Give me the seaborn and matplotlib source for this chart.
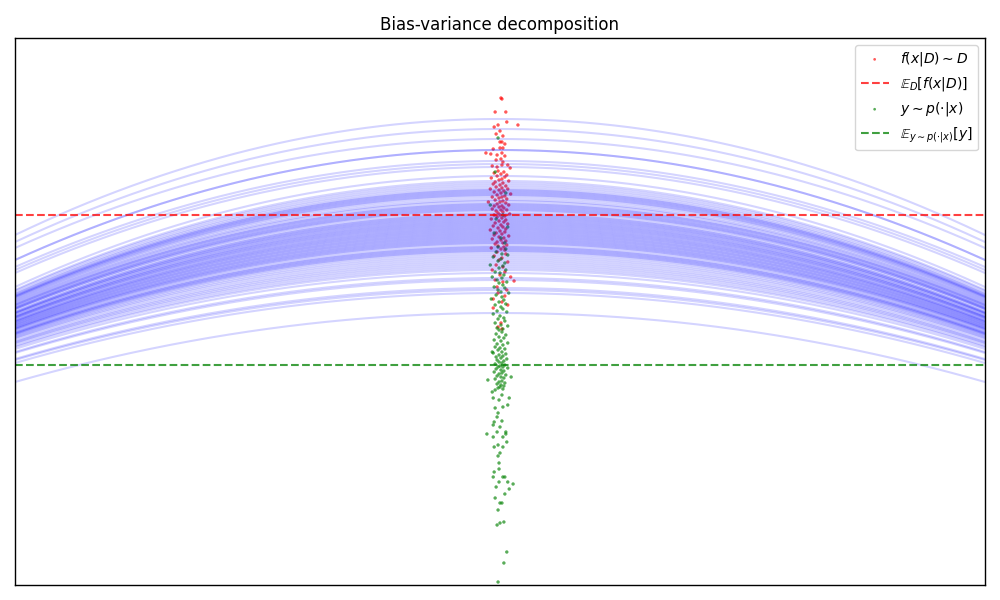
import numpy as np
import pandas as pd
import matplotlib
matplotlib.use("Agg")
import matplotlib.pyplot as plt
import seaborn as sns

# ---- data ----
# fitted quadratic models: y = vertex - drop * x^2 on x in [-1, 1]
curve_vertex = [4.66, 4.56, 4.46, 4.35, 4.35, 4.24, 4.21, 4.18, 4.09, 4.04, 4.02, 4.00,
                3.98, 3.95, 3.93, 3.91, 3.89, 3.82, 3.81, 3.79, 3.77, 3.75, 3.71, 3.69,
                3.67, 3.65, 3.63, 3.61, 3.59, 3.57, 3.55, 3.53, 3.51, 3.49, 3.47, 3.45,
                3.43, 3.42, 3.39, 3.37, 3.35, 3.33, 3.31, 3.29, 3.27, 3.25, 3.23, 3.21,
                3.19, 3.17, 3.15, 3.12, 3.07, 3.05, 2.97, 2.95, 2.92, 2.72,
                3.96, 3.94, 3.92, 3.90, 3.87, 3.85, 3.84, 3.80, 3.78, 3.76, 3.74, 3.72,
                3.70, 3.68, 3.66, 3.64, 3.62, 3.60, 3.58, 3.56, 3.54, 3.52, 3.50, 3.48,
                3.46, 3.44, 3.41, 3.38, 3.36, 3.34]
curve_drop = [1.16, 1.13, 1.09, 1.10, 1.10, 1.06, 1.06, 1.06, 1.11, 1.09, 1.08, 1.08,
              1.07, 1.06, 1.05, 1.04, 1.04, 1.01, 1.01, 1.00, 1.00, 0.99, 0.98, 0.97,
              0.96, 0.96, 0.95, 0.94, 0.93, 0.93, 0.92, 0.91, 0.90, 0.90, 0.89, 0.88,
              0.87, 0.87, 0.86, 0.85, 0.84, 0.84, 0.83, 0.82, 0.81, 0.81, 0.80, 0.79,
              0.78, 0.78, 0.77, 0.76, 0.74, 0.73, 0.71, 0.70, 0.70, 0.69,
              1.06, 1.05, 1.04, 1.04, 1.03, 1.02, 1.02, 1.00, 1.00, 0.99, 0.98, 0.97,
              0.97, 0.96, 0.95, 0.95, 0.94, 0.93, 0.93, 0.92, 0.91, 0.91, 0.90, 0.89,
              0.89, 0.88, 0.87, 0.86, 0.85, 0.84]

# model predictions f(x|D) at x = 0 (x offsets are plotting jitter)
red_y = [4.87, 4.86, 4.73, 4.73, 4.63, 4.60, 4.58, 4.60, 4.54, 4.51, 4.49, 4.43, 4.43, 4.41,
         4.36, 4.37, 4.37, 4.32, 4.31, 4.30, 4.32, 4.29, 4.25, 4.26, 4.23, 4.19, 4.20, 4.20,
         4.17, 4.18,
         4.14, 4.13, 4.12, 4.11, 4.10, 4.09, 4.08, 4.07, 4.06, 4.05, 4.04, 4.03, 4.02, 4.01,
         4.00, 3.99, 3.98, 3.97, 3.96, 3.96, 3.95, 3.94, 3.93, 3.92, 3.91, 3.90, 3.89, 3.88,
         3.88, 3.87, 3.86, 3.85, 3.84, 3.83, 3.83, 3.82, 3.81, 3.80, 3.79, 3.79, 3.78, 3.77,
         3.76, 3.75, 3.75, 3.74, 3.73, 3.72, 3.71, 3.70, 3.70, 3.69, 3.68, 3.67, 3.66, 3.65,
         3.64, 3.63, 3.62, 3.61, 3.60, 3.59, 3.58, 3.57, 3.56, 3.55, 3.54, 3.53, 3.52, 3.51,
         3.50, 3.49, 3.48, 3.47, 3.46, 3.45, 3.44, 3.43, 3.42, 3.41, 3.40, 3.39, 3.38, 3.37,
         3.36, 3.35,
         3.33, 3.31, 3.29, 3.27, 3.25, 3.23, 3.20, 3.18, 3.15, 3.13, 3.10, 3.08, 3.05, 3.03,
         3.04, 2.98, 2.95, 2.92, 2.89, 2.86, 2.83, 2.80, 2.77, 2.62, 2.58, 2.56]
red_x = [0.002, 0.004, -0.010, 0.012, 0.014, 0.037, -0.012, -0.004, 0.000, -0.008, 0.006,
         0.000, 0.004, 0.010, -0.014, 0.000, 0.006, -0.029, -0.019, -0.006, 0.004, 0.010,
         -0.008, 0.002, 0.006, -0.016, 0.004, 0.016, 0.021, -0.006,
         -0.004, 0.008, -0.012, 0.002, 0.014, -0.006, 0.010, -0.018, 0.004, -0.002, 0.018,
         -0.010, 0.006, -0.014, 0.000, 0.012, -0.008, 0.004, -0.020, 0.016, -0.002, 0.008,
         -0.012, 0.002, 0.022, -0.006, 0.010, -0.016, 0.004, -0.002, 0.014, -0.010, 0.006,
         -0.024, 0.000, 0.012, -0.006, 0.018, -0.012, 0.004, -0.002, 0.008, -0.016, 0.002,
         0.014, -0.008, 0.006, -0.004, 0.020, -0.012, 0.000, 0.010, -0.006, 0.004, -0.018,
         0.012, -0.002, 0.008, -0.010, 0.016, 0.002, -0.014, 0.006, -0.004, 0.012, -0.020,
         0.000, 0.010, -0.008, 0.004, -0.012, 0.018, -0.002, 0.008, -0.016, 0.002, 0.012,
         -0.006, 0.006, -0.010, 0.014, -0.004, 0.008, -0.018, 0.002, 0.010,
         -0.006, 0.012, -0.012, 0.004, -0.002, 0.016, -0.008, 0.006, -0.016, 0.010, 0.000,
         0.022, -0.010, 0.006, 0.029, -0.006, 0.014, -0.004, 0.010, -0.014, 0.004, 0.016,
         -0.014, 0.002, -0.004, 0.004]

# noisy targets y ~ p(.|x) at x = 0
green_y = [4.47, 4.13, 3.92, 3.80, 3.70, 3.66, 3.58, 3.52, 3.47, 3.42, 3.38, 3.36,
           3.33, 3.31, 3.30, 3.28, 3.26, 3.24, 3.22, 3.20, 3.19, 3.17, 3.15, 3.13, 3.12,
           3.10, 3.08, 3.07, 3.05, 3.03, 3.02, 3.00, 2.98, 2.97, 2.95, 2.93, 2.92, 2.90,
           2.88, 2.86, 2.85, 2.83, 2.81, 2.80, 2.78, 2.76, 2.74, 2.73, 2.71, 2.69, 2.67,
           2.66, 2.64, 2.62, 2.60, 2.59, 2.57, 2.56, 2.55,
           2.53, 2.51, 2.50, 2.48, 2.47, 2.45, 2.44, 2.42, 2.41, 2.40, 2.38, 2.37, 2.36,
           2.35, 2.33, 2.32, 2.31, 2.30, 2.29, 2.28, 2.27, 2.26, 2.25, 2.24, 2.23, 2.22,
           2.21, 2.20, 2.19, 2.18, 2.18, 2.17, 2.16, 2.15, 2.14, 2.13, 2.12, 2.11, 2.10,
           2.09, 2.08, 2.07, 2.06, 2.04, 2.03, 2.02, 2.01, 2.00, 1.99, 1.97, 1.96,
           1.51, 2.33, 2.05, 2.08, 1.87, 1.01, 0.96, 0.87, 0.75, 0.60, 0.62, 0.63, 0.33,
           0.22, 0.03, 1.13, 1.08, 0.98, 1.03, 1.08, 1.08, 1.03, 0.82, 0.82, 0.91, 1.22,
           1.16, 1.29, 1.32, 1.38, 1.40, 1.43, 1.38, 1.48, 1.48, 1.53, 1.51, 1.53, 1.58,
           1.64, 1.63, 1.60, 1.68, 1.72, 1.78, 1.80, 1.77, 1.87, 1.93, 1.95, 1.90, 1.85,
           1.98]
green_x = [-0.004, -0.010, 0.012, -0.020, 0.006, -0.008, 0.016, -0.012, 0.002, 0.010,
           -0.004, 0.012,
           -0.008, 0.004, 0.016, -0.014, 0.002, -0.004, 0.010, -0.020, 0.006, -0.002,
           0.012, -0.010, 0.000, 0.008, -0.016, 0.004, -0.006, 0.014, -0.002, 0.006,
           -0.012, 0.010, -0.004, 0.002, 0.018, -0.008, 0.004, -0.018, 0.008, -0.002,
           0.012, -0.010, 0.002, 0.006, -0.006, 0.014, -0.014, 0.000, 0.008, -0.004,
           0.010, -0.010, 0.002, 0.016, -0.006, 0.006, -0.002,
           0.004, -0.008, 0.012, -0.002, 0.008, -0.012, 0.002, 0.016, -0.006, 0.006,
           -0.010, 0.000, 0.010, -0.004, 0.004, -0.014, 0.012, -0.002, 0.006, -0.008,
           0.002, 0.014, -0.006, 0.008, -0.002, 0.004, -0.010, 0.010, 0.000, -0.004,
           0.006, 0.016, -0.008, 0.002, 0.008, -0.012, 0.004, -0.002, 0.012, -0.006,
           0.002, 0.008, -0.010, 0.004, -0.002, 0.010, -0.006, 0.002, 0.008, -0.004,
           0.006,
           -0.027, -0.016, -0.025, 0.023, 0.019, 0.027, 0.019, -0.010, -0.004, -0.006,
           0.000, 0.008, 0.014, 0.008, -0.004, -0.012, -0.014, -0.008, -0.002, 0.006,
           0.010, 0.016, 0.000, 0.004, 0.010, -0.002, -0.002, -0.004, 0.000, 0.006,
           -0.004, 0.014, -0.012, -0.014, 0.006, 0.012, 0.012, -0.006, 0.000, 0.004,
           -0.012, -0.014, -0.006, -0.004, 0.006, 0.016, -0.010, -0.014, -0.016, -0.010,
           0.004, -0.002, 0.000]

mean_prediction = 3.70   # E_D[f(x|D)]
mean_target = 2.20       # E_{y~p(.|x)}[y]

labels = [r'$f(x|D) \sim D$', r'$\mathbb{E}_D[f(x|D)]$',
          r'$y \sim p(\cdot|x)$', r'$\mathbb{E}_{y \sim p(\cdot|x)}[y]$']

# ---- figure ----
sns.set_style("white")
plt.rcParams['font.family'] = ['DejaVu Sans']
plt.rcParams['text.color'] = 'black'
fig, ax = plt.subplots(figsize=(10, 6), dpi=100)
fig.subplots_adjust(left=0.015, right=0.985, top=1 - 38 / 600, bottom=1 - 585 / 600)

xs = np.linspace(-1, 1, 200)
rows = []
for i, (v, d) in enumerate(zip(curve_vertex, curve_drop)):
    for xv in xs:
        rows.append((i, xv, v - d * xv ** 2))
curves = pd.DataFrame(rows, columns=["curve", "x", "y"])
sns.lineplot(data=curves, x="x", y="y", units="curve", estimator=None,
             color="blue", alpha=0.17, linewidth=1.5, ax=ax, legend=False)

sns.scatterplot(x=red_x, y=red_y, color="red", alpha=0.65, s=6, edgecolor="none",
                ax=ax, label=labels[0])
ax.axhline(mean_prediction, color="red", alpha=0.75, linestyle="--", linewidth=1.5,
           label=labels[1])
sns.scatterplot(x=green_x, y=green_y, color="green", alpha=0.65, s=6, edgecolor="none",
                ax=ax, label=labels[2])
ax.axhline(mean_target, color="green", alpha=0.75, linestyle="--", linewidth=1.5,
           label=labels[3])

ax.set_xlim(-1, 1)
ax.set_ylim(0, 5.47)
ax.set_xticks([])
ax.set_yticks([])
ax.set_xlabel("")
ax.set_ylabel("")
for sp in ax.spines.values():
    sp.set_color("black")
    sp.set_linewidth(1.0)
ax.set_title("Bias-variance decomposition", fontsize=12, color="black")
leg = ax.legend(loc="upper right", fontsize=10, markerscale=0.8, frameon=True)
for t in leg.get_texts():
    t.set_color("black")

fig.savefig("out.png", dpi=100)
